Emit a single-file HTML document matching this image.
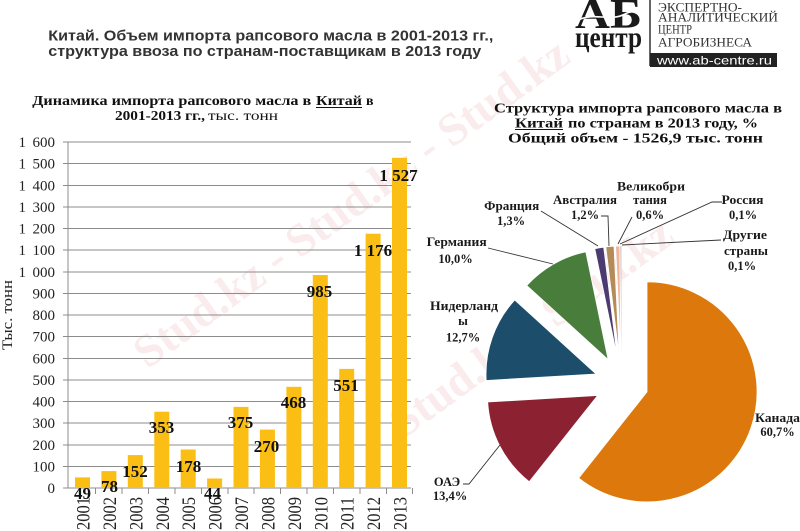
<!DOCTYPE html>
<html><head><meta charset="utf-8"><style>
html,body{margin:0;padding:0;background:#fff;overflow:hidden;width:800px;height:531px;}
svg{display:block;overflow:hidden;}
.s{font-family:"Liberation Serif","Noto Serif CJK SC",serif;}
.a{font-family:"Liberation Sans","Noto Sans CJK SC",sans-serif;}
</style></head><body>
<svg width="800" height="531" viewBox="0 0 800 531" xmlns="http://www.w3.org/2000/svg">
<defs><clipPath id="cp"><rect x="0" y="0" width="800" height="531"/></clipPath></defs>
<g clip-path="url(#cp)">
<rect width="800" height="531" fill="#fff"/>

<!-- watermark -->
<g class="s" font-weight="bold" font-size="46" fill="#f8e4e4" opacity="0.7" text-anchor="middle">
<text transform="translate(360,215) rotate(-36)">Stud.kz - Stud.kz - Stud.kz</text>
<text transform="translate(540,340) rotate(-36)">Stud.kz - Stud.kz</text>
</g>

<!-- header title -->
<g class="a" font-size="15" font-weight="bold" fill="#333">
<text x="48.3" y="40.7" textLength="445" lengthAdjust="spacingAndGlyphs">Китай. Объем импорта рапсового масла в 2001-2013 гг.,</text>
<text x="48.3" y="56" textLength="433" lengthAdjust="spacingAndGlyphs">структура ввоза по странам-поставщикам в 2013 году</text>
</g>

<!-- logo -->
<g>
<text class="s" x="575" y="28" font-size="42" font-weight="bold" fill="#1a1a1a" textLength="67" lengthAdjust="spacingAndGlyphs">АБ</text>
<path d="M578,20 C595,12 610,22 625,14 C632,10 640,12 644,16" stroke="#fff" stroke-width="1.6" fill="none"/>
<text class="s" x="575" y="47" font-size="30" font-weight="bold" fill="#1a1a1a" textLength="67" lengthAdjust="spacingAndGlyphs">центр</text>
<line x1="650" y1="0" x2="650" y2="66" stroke="#333" stroke-width="1.5"/>
<g class="s" font-size="12.5" fill="#333">
<text x="658" y="11.5" textLength="84" lengthAdjust="spacingAndGlyphs">ЭКСПЕРТНО-</text>
<text x="658" y="21.5" textLength="120" lengthAdjust="spacingAndGlyphs">АНАЛИТИЧЕСКИЙ</text>
<text x="658" y="33.5" textLength="34" lengthAdjust="spacingAndGlyphs">ЦЕНТР</text>
<text x="658" y="46.5" textLength="94" lengthAdjust="spacingAndGlyphs">АГРОБИЗНЕСА</text>
</g>
<rect x="650" y="53" width="127" height="14" fill="#222"/>
<text class="a" x="657" y="64.5" font-size="12" fill="#fff" textLength="115" lengthAdjust="spacingAndGlyphs">www.ab-centre.ru</text>
</g>

<!-- left title -->
<g class="s" font-weight="bold" fill="#111" font-size="13.5">
<text x="32.3" y="105" textLength="279" lengthAdjust="spacingAndGlyphs">Динамика импорта рапсового масла в</text>
<text x="316" y="105" textLength="46" lengthAdjust="spacingAndGlyphs">Китай</text>
<text x="366" y="105" textLength="7.5" lengthAdjust="spacingAndGlyphs">в</text>
<line x1="316" y1="107.5" x2="362" y2="107.5" stroke="#111" stroke-width="1"/>
<text x="115" y="120" textLength="90" lengthAdjust="spacingAndGlyphs">2001-2013 гг.,</text>
<text x="208" y="120" font-weight="normal" textLength="70" lengthAdjust="spacingAndGlyphs">тыс. тонн</text>
</g>

<!-- right title -->
<g class="s" font-weight="bold" fill="#111" font-size="14">
<text x="494" y="112.7" textLength="288" lengthAdjust="spacingAndGlyphs">Структура импорта рапсового масла в</text>
<text x="515" y="127.7" textLength="48" lengthAdjust="spacingAndGlyphs">Китай</text>
<text x="568" y="127.7" textLength="190" lengthAdjust="spacingAndGlyphs">по странам в 2013 году, %</text>
<line x1="515" y1="129.5" x2="563" y2="129.5" stroke="#111" stroke-width="1"/>
<text x="508" y="142.7" textLength="255" lengthAdjust="spacingAndGlyphs">Общий объем -  1526,9 тыс. тонн</text>
</g>

<!-- grid -->
<g stroke="#8c8c8c" stroke-width="1" shape-rendering="crispEdges">
<line x1="63" y1="142" x2="411" y2="142"/>
<line x1="63" y1="163.6" x2="411" y2="163.6"/>
<line x1="63" y1="185.3" x2="411" y2="185.3"/>
<line x1="63" y1="206.9" x2="411" y2="206.9"/>
<line x1="63" y1="228.5" x2="411" y2="228.5"/>
<line x1="63" y1="250.1" x2="411" y2="250.1"/>
<line x1="63" y1="271.8" x2="411" y2="271.8"/>
<line x1="63" y1="293.4" x2="411" y2="293.4"/>
<line x1="63" y1="315" x2="411" y2="315"/>
<line x1="63" y1="336.6" x2="411" y2="336.6"/>
<line x1="63" y1="358.3" x2="411" y2="358.3"/>
<line x1="63" y1="379.9" x2="411" y2="379.9"/>
<line x1="63" y1="401.5" x2="411" y2="401.5"/>
<line x1="63" y1="423.1" x2="411" y2="423.1"/>
<line x1="63" y1="444.8" x2="411" y2="444.8"/>
<line x1="63" y1="466.4" x2="411" y2="466.4"/>
<line x1="63" y1="488" x2="411" y2="488"/>
<line x1="68" y1="142" x2="68" y2="488"/>
<line x1="95.7" y1="488" x2="95.7" y2="494"/>
<line x1="122.1" y1="488" x2="122.1" y2="494"/>
<line x1="148.5" y1="488" x2="148.5" y2="494"/>
<line x1="175" y1="488" x2="175" y2="494"/>
<line x1="201.4" y1="488" x2="201.4" y2="494"/>
<line x1="227.8" y1="488" x2="227.8" y2="494"/>
<line x1="254.2" y1="488" x2="254.2" y2="494"/>
<line x1="280.6" y1="488" x2="280.6" y2="494"/>
<line x1="307" y1="488" x2="307" y2="494"/>
<line x1="333.5" y1="488" x2="333.5" y2="494"/>
<line x1="359.9" y1="488" x2="359.9" y2="494"/>
<line x1="386.3" y1="488" x2="386.3" y2="494"/>
<line x1="412.7" y1="488" x2="412.7" y2="494"/>
</g>

<!-- y labels -->
<g class="s" font-size="15" fill="#222">
<g text-anchor="end">
<text x="55" y="147">600</text>
<text x="55" y="168.6">500</text>
<text x="55" y="190.3">400</text>
<text x="55" y="211.9">300</text>
<text x="55" y="233.5">200</text>
<text x="55" y="255.1">100</text>
<text x="55" y="276.8">000</text>
<text x="55" y="298.4">900</text>
<text x="55" y="320">800</text>
<text x="55" y="341.6">700</text>
<text x="55" y="363.3">600</text>
<text x="55" y="384.9">500</text>
<text x="55" y="406.5">400</text>
<text x="55" y="428.1">300</text>
<text x="55" y="449.8">200</text>
<text x="55" y="471.4">100</text>
<text x="55" y="493">0</text>
</g>
<text x="18.5" y="147">1</text>
<text x="18.5" y="168.6">1</text>
<text x="18.5" y="190.3">1</text>
<text x="18.5" y="211.9">1</text>
<text x="18.5" y="233.5">1</text>
<text x="18.5" y="255.1">1</text>
<text x="18.5" y="276.8">1</text>
<text transform="translate(12,315) rotate(-90)" text-anchor="middle" textLength="70" lengthAdjust="spacingAndGlyphs">Тыс. тонн</text>
</g>

<!-- bars -->
<g fill="#FBBE14">
<rect x="75" y="477.4" width="15" height="10.6"/>
<rect x="101.4" y="471.1" width="15" height="16.9"/>
<rect x="127.8" y="455.1" width="15" height="32.9"/>
<rect x="154.3" y="411.7" width="15" height="76.3"/>
<rect x="180.7" y="449.5" width="15" height="38.5"/>
<rect x="207.1" y="478.5" width="15" height="9.5"/>
<rect x="233.5" y="406.9" width="15" height="81.1"/>
<rect x="259.9" y="429.6" width="15" height="58.4"/>
<rect x="286.4" y="386.8" width="15" height="101.2"/>
<rect x="312.8" y="275" width="15" height="213"/>
<rect x="339.2" y="368.9" width="15" height="119.1"/>
<rect x="365.6" y="233.7" width="15" height="254.3"/>
<rect x="392" y="157.8" width="15" height="330.2"/>
</g>

<!-- value labels -->
<g class="s" font-weight="bold" font-size="17" fill="#111" text-anchor="middle">
<text x="82.5" y="499">49</text>
<text x="109.5" y="492">78</text>
<text x="135" y="477">152</text>
<text x="161.5" y="433">353</text>
<text x="188.5" y="472">178</text>
<text x="212.5" y="499">44</text>
<text x="240.5" y="428">375</text>
<text x="266.5" y="452">270</text>
<text x="293.5" y="408">468</text>
<text x="319.5" y="297">985</text>
<text x="346" y="391">551</text>
<text x="373" y="256">1 176</text>
<text x="398.5" y="181">1 527</text>
</g>

<!-- x labels -->
<g class="s" font-size="19" fill="#222" text-anchor="end">
<text transform="translate(89.5,497) rotate(-90)" textLength="33" lengthAdjust="spacingAndGlyphs">2001</text>
<text transform="translate(115.9,497) rotate(-90)" textLength="33" lengthAdjust="spacingAndGlyphs">2002</text>
<text transform="translate(142.3,497) rotate(-90)" textLength="33" lengthAdjust="spacingAndGlyphs">2003</text>
<text transform="translate(168.8,497) rotate(-90)" textLength="33" lengthAdjust="spacingAndGlyphs">2004</text>
<text transform="translate(195.2,497) rotate(-90)" textLength="33" lengthAdjust="spacingAndGlyphs">2005</text>
<text transform="translate(221.6,497) rotate(-90)" textLength="33" lengthAdjust="spacingAndGlyphs">2006</text>
<text transform="translate(248,497) rotate(-90)" textLength="33" lengthAdjust="spacingAndGlyphs">2007</text>
<text transform="translate(274.4,497) rotate(-90)" textLength="33" lengthAdjust="spacingAndGlyphs">2008</text>
<text transform="translate(300.9,497) rotate(-90)" textLength="33" lengthAdjust="spacingAndGlyphs">2009</text>
<text transform="translate(327.3,497) rotate(-90)" textLength="33" lengthAdjust="spacingAndGlyphs">2010</text>
<text transform="translate(353.7,497) rotate(-90)" textLength="33" lengthAdjust="spacingAndGlyphs">2011</text>
<text transform="translate(380.1,497) rotate(-90)" textLength="33" lengthAdjust="spacingAndGlyphs">2012</text>
<text transform="translate(406.5,497) rotate(-90)" textLength="33" lengthAdjust="spacingAndGlyphs">2013</text>
</g>

<!-- pie -->
<g stroke="#fff" stroke-width="0.8">
<path d="M647,391.9 L647,281.9 A110,110 0 1 1 578.7,478.1 Z" fill="#DC780C"/>
<path d="M597.6,395.5 L529.2,481.7 A110,110 0 0 1 487.7,402 Z" fill="#8C2131"/>
<path d="M596,374 L486.2,380.5 A110,110 0 0 1 514.7,300 Z" fill="#1C4E6C"/>
<path d="M608.1,359.6 L526.8,285.5 A110,110 0 0 1 585.8,251.8 Z" fill="#487D3B"/>
<path d="M617.1,356.4 L594.8,248.7 A110,110 0 0 1 603.7,247.2 Z" fill="#4C3B70"/>
<path d="M619.2,356.1 L605.8,246.9 A110,110 0 0 1 614,246.2 Z" fill="#B38C57"/>
<path d="M620.8,356 L615.6,246.1 A110,110 0 0 1 619.8,246 Z" fill="#F2B49C"/>
<path d="M621.4,356 L620.4,246 A110,110 0 0 1 621.1,246 Z" fill="#c9b3a8" stroke="none"/>
<path d="M621.5,356 L621.1,246 A110,110 0 0 1 621.6,246 Z" fill="#d8c8c0" stroke="none"/>
</g>

<!-- leader lines -->
<g stroke="#333" stroke-width="0.9" fill="none">
<polyline points="541,211 598,246"/>
<polyline points="601,216 608,216 609,246"/>
<polyline points="632,217 618,244"/>
<polyline points="722,202 712,202 620,244"/>
<polyline points="721,240 622,245"/>
<polyline points="488,248 553,264"/>
<polyline points="463,484 469,484 500,445"/>
</g>

<!-- pie labels -->
<g class="s" font-weight="bold" font-size="12.5" fill="#1a1a1a" text-anchor="middle">
<text x="651" y="190.5" textLength="68" lengthAdjust="spacingAndGlyphs">Великобри</text>
<text x="650" y="204">тания</text>
<text x="650" y="219">0,6%</text>
<text x="585" y="204" textLength="64" lengthAdjust="spacingAndGlyphs">Австралия</text>
<text x="585" y="219">1,2%</text>
<text x="511.7" y="210" textLength="55" lengthAdjust="spacingAndGlyphs">Франция</text>
<text x="511" y="225">1,3%</text>
<text x="456.7" y="246" textLength="60" lengthAdjust="spacingAndGlyphs">Германия</text>
<text x="455.5" y="263">10,0%</text>
<text x="464" y="310" textLength="68" lengthAdjust="spacingAndGlyphs">Нидерланд</text>
<text x="463" y="325">ы</text>
<text x="463" y="341.5">12,7%</text>
<text x="742.5" y="204" textLength="42" lengthAdjust="spacingAndGlyphs">Россия</text>
<text x="743" y="219">0,1%</text>
<text x="745" y="239" textLength="44" lengthAdjust="spacingAndGlyphs">Другие</text>
<text x="746" y="255" textLength="44" lengthAdjust="spacingAndGlyphs">страны</text>
<text x="742" y="270">0,1%</text>
<text x="777.5" y="422" textLength="45" lengthAdjust="spacingAndGlyphs">Канада</text>
<text x="777.5" y="436">60,7%</text>
<text x="447" y="486">ОАЭ</text>
<text x="450" y="500">13,4%</text>
</g>
</g>
</svg>
</body></html>
